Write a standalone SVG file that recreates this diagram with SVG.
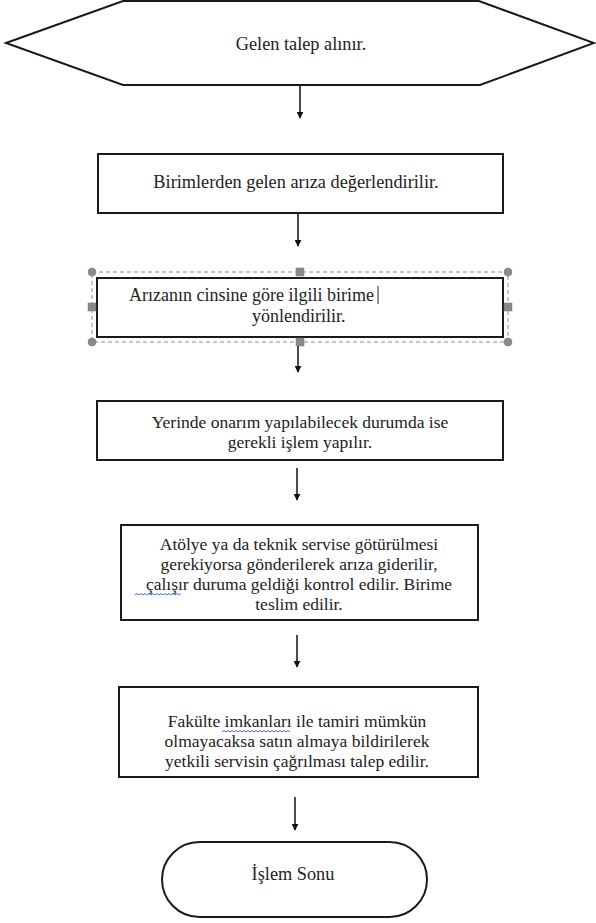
<svg xmlns="http://www.w3.org/2000/svg" width="596" height="923" viewBox="0 0 596 923">
  <defs>
    <marker id="ah" viewBox="0 0 10 10" refX="9" refY="5" markerWidth="7" markerHeight="7" markerUnits="userSpaceOnUse" orient="auto">
      <path d="M0,0 L10,5 L0,10 z" fill="#111"/>
    </marker>
    <style>
      .shape { fill: #fff; stroke: #1a1a1a; stroke-width: 2; }
      .t { font-size: 17.5px; fill: #222; }
      .big { font-size: 18.3px; }
      .mid { font-size: 18px; }
      .c { text-anchor: middle; }
      .conn { stroke: #111; stroke-width: 1.5; fill: none; marker-end: url(#ah); }
      .sel { fill: none; stroke: #8a8a8a; stroke-width: 1; stroke-dasharray: 4 3; }
      .h { fill: #8a8a8a; stroke: #7a7a7a; stroke-width: 0.5; }
      .sq { fill: none; stroke: #3a5bd0; stroke-width: 0.9; }
    </style>
  </defs>
  <rect width="596" height="923" fill="#fff"/>

  <g font-family="'Liberation Serif', 'DejaVu Serif', 'Times New Roman', serif">
  <g id="n1">
    <polygon class="shape" points="6,43 123,1 479,1 594,43 480,85 123,85"/>
    <text class="t big c" x="301" y="50">Gelen talep alınır.</text>
  </g>

  <g id="n2">
    <rect class="shape" x="98" y="154" width="405" height="59"/>
    <text class="t big c" x="296" y="188">Birimlerden gelen arıza değerlendirilir.</text>
  </g>

  <g id="n3">
    <rect class="sel" x="92" y="272" width="416" height="70"/>
    <rect class="shape" x="97" y="278" width="406" height="59"/>
    <text class="t mid" x="129" y="301">Arızanın cinsine göre ilgili birime</text>
    <line x1="378" y1="286" x2="378" y2="304" stroke="#222" stroke-width="1"/>
    <text class="t mid" x="252" y="322">yönlendirilir.</text>
    <circle class="h" cx="92" cy="272" r="4"/>
    <circle class="h" cx="508" cy="272" r="4"/>
    <circle class="h" cx="92" cy="342" r="4"/>
    <circle class="h" cx="508" cy="342" r="4"/>
    <rect class="h" x="296" y="268" width="8" height="8"/>
    <rect class="h" x="296" y="338" width="8" height="8"/>
    <rect class="h" x="88" y="303" width="8" height="8"/>
    <rect class="h" x="504" y="303" width="8" height="8"/>
  </g>

  <g id="n4">
    <rect class="shape" x="97" y="401" width="406" height="59"/>
    <text class="t c" x="300" y="428">Yerinde onarım yapılabilecek durumda ise</text>
    <text class="t c" x="300" y="448">gerekli işlem yapılır.</text>
  </g>

  <g id="n5">
    <rect class="shape" x="121" y="525" width="357" height="95"/>
    <text class="t c" x="299" y="550">Atölye ya da teknik servise götürülmesi</text>
    <text class="t c" x="299" y="570">gerekiyorsa gönderilerek arıza giderilir,</text>
    <text class="t c" x="299" y="590">çalışır duruma geldiği kontrol edilir. Birime</text>
    <text class="t c" x="299" y="610">teslim edilir.</text>
    <path class="sq" d="M135,595 l2,-1.5 l2,1.5 l2,-1.5 l2,1.5 l2,-1.5 l2,1.5 l2,-1.5 l2,1.5 l2,-1.5 l2,1.5 l2,-1.5 l2,1.5 l2,-1.5 l2,1.5 l2,-1.5 l2,1.5 l2,-1.5 l2,1.5 l2,-1.5 l2,1.5 l2,-1.5 l2,1.5 l2,-1.5"/>
  </g>

  <g id="n6">
    <rect class="shape" x="119" y="687" width="359" height="90"/>
    <text class="t c" x="297" y="727">Fakülte imkanları ile tamiri mümkün</text>
    <text class="t c" x="297" y="747">olmayacaksa satın almaya bildirilerek</text>
    <text class="t c" x="297" y="767">yetkili servisin çağrılması talep edilir.</text>
    <path class="sq" d="M222,732 l2,-1.5 l2,1.5 l2,-1.5 l2,1.5 l2,-1.5 l2,1.5 l2,-1.5 l2,1.5 l2,-1.5 l2,1.5 l2,-1.5 l2,1.5 l2,-1.5 l2,1.5 l2,-1.5 l2,1.5 l2,-1.5 l2,1.5 l2,-1.5 l2,1.5 l2,-1.5 l2,1.5 l2,-1.5 l2,1.5 l2,-1.5 l2,1.5 l2,-1.5 l2,1.5 l2,-1.5 l2,1.5 l2,-1.5 l2,1.5 l2,-1.5 l2,1.5"/>
  </g>

  <g id="n7">
    <rect class="shape" x="162" y="842" width="265" height="75" rx="37.5" ry="37.5"/>
    <text class="t big c" x="293" y="880">İşlem Sonu</text>
  </g>
  </g>

  <g id="connectors">
    <line class="conn" x1="300" y1="86" x2="300" y2="118"/>
    <line class="conn" x1="298" y1="214" x2="298" y2="246"/>
    <line class="conn" x1="298" y1="346" x2="298" y2="372"/>
    <line class="conn" x1="297" y1="468" x2="297" y2="500"/>
    <line class="conn" x1="297" y1="635" x2="297" y2="667"/>
    <line class="conn" x1="295" y1="797" x2="295" y2="830"/>
  </g>
</svg>
